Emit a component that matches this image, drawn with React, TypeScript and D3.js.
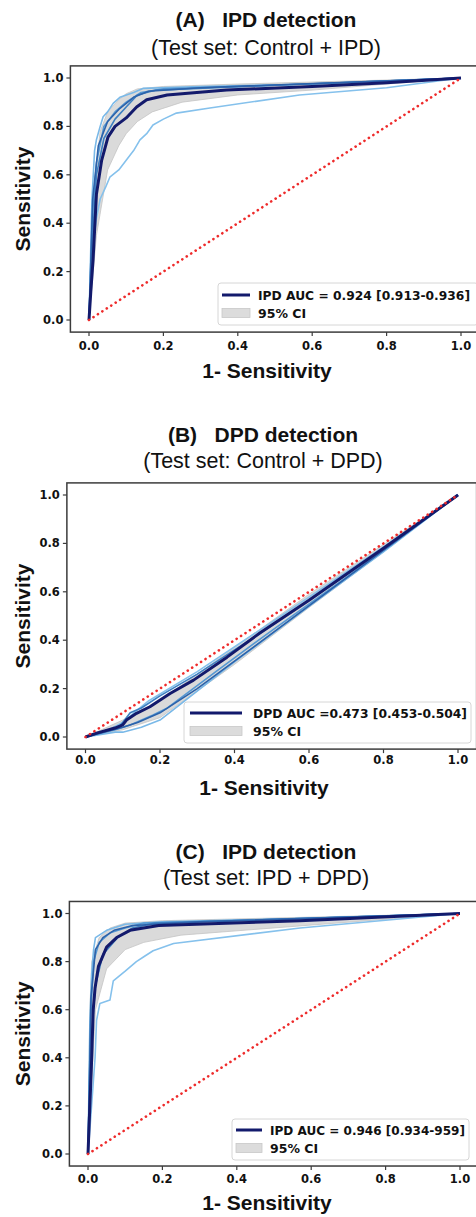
import * as d3 from "d3";

type Pt = [number, number];

const TICKS = [0, 0.2, 0.4, 0.6, 0.8, 1.0];
const FOLD_COLORS = ["#85c1ec", "#7ab9e8", "#5598d3", "#3d7fc1", "#2c62aa"];
const NAVY = "#131a6c";

// panel A: Control + IPD
const MAIN_A: Pt[] = [[0, 0], [0.005, 0.12], [0.011, 0.25], [0.02, 0.52], [0.034, 0.66], [0.051, 0.756], [0.07, 0.8], [0.1, 0.835], [0.128, 0.88], [0.155, 0.91], [0.21, 0.93], [0.37, 0.95], [0.6, 0.965], [0.8, 0.98], [1, 1]];
const FOLDS_A: Pt[][] = [
  [[0, 0], [0.01, 0.3], [0.02, 0.42], [0.03, 0.5], [0.045, 0.55], [0.056, 0.59], [0.08, 0.62], [0.1, 0.66], [0.12, 0.7], [0.137, 0.744], [0.155, 0.77], [0.172, 0.806], [0.2, 0.83], [0.235, 0.855], [0.325, 0.876], [0.566, 0.93], [0.8, 0.96], [1, 1]],
  [[0, 0], [0.008, 0.5], [0.015, 0.7], [0.02, 0.745], [0.03, 0.8], [0.038, 0.84], [0.05, 0.86], [0.065, 0.895], [0.083, 0.92], [0.12, 0.94], [0.145, 0.957], [0.3, 0.965], [0.6, 0.975], [1, 1]],
  [[0, 0], [0.01, 0.45], [0.02, 0.65], [0.04, 0.8], [0.055, 0.83], [0.07, 0.86], [0.1, 0.9], [0.14, 0.94], [0.2, 0.955], [0.5, 0.97], [1, 1]],
  [[0, 0], [0.012, 0.4], [0.02, 0.6], [0.04, 0.75], [0.07, 0.83], [0.1, 0.88], [0.13, 0.93], [0.18, 0.95], [0.5, 0.97], [1, 1]],
  [[0, 0], [0.01, 0.5], [0.025, 0.72], [0.05, 0.82], [0.08, 0.87], [0.12, 0.92], [0.16, 0.945], [0.3, 0.96], [1, 1]],
];
const CI_LOW_A: Pt[] = [[0, 0], [0.02, 0.35], [0.05, 0.62], [0.08, 0.72], [0.1, 0.77], [0.13, 0.82], [0.17, 0.86], [0.25, 0.9], [0.4, 0.93], [0.6, 0.95], [1, 1]];
const CI_HIGH_A: Pt[] = [[0, 0], [0.01, 0.5], [0.03, 0.78], [0.05, 0.86], [0.08, 0.91], [0.1, 0.935], [0.13, 0.955], [0.2, 0.965], [0.4, 0.975], [1, 1]];

// panel B: Control + DPD
const MAIN_B: Pt[] = [[0, 0], [0.03, 0.016], [0.079, 0.037], [0.1, 0.05], [0.11, 0.07], [0.137, 0.098], [0.173, 0.125], [0.227, 0.18], [0.29, 0.235], [0.38, 0.33], [0.468, 0.43], [0.6, 0.565], [0.8, 0.78], [1, 1]];
const FOLDS_B: Pt[][] = [
  [[0, 0], [0.05, 0.02], [0.1, 0.06], [0.13, 0.1], [0.17, 0.15], [0.3, 0.27], [0.5, 0.475], [0.8, 0.785], [1, 1]],
  [[0, 0], [0.08, 0.02], [0.1, 0.02], [0.15, 0.04], [0.2, 0.07], [0.25, 0.13], [0.4, 0.31], [0.6, 0.54], [0.8, 0.765], [1, 1]],
  [[0, 0], [0.08, 0.03], [0.12, 0.05], [0.18, 0.09], [0.22, 0.12], [0.35, 0.27], [0.5, 0.44], [0.7, 0.66], [1, 1]],
  [[0, 0], [0.09, 0.04], [0.12, 0.1], [0.15, 0.12], [0.2, 0.17], [0.3, 0.26], [0.5, 0.46], [0.7, 0.67], [1, 1]],
  [[0, 0], [0.1, 0.04], [0.14, 0.06], [0.2, 0.1], [0.3, 0.2], [0.45, 0.37], [0.65, 0.6], [1, 1]],
];
const CI_LOW_B: Pt[] = [[0, 0], [0.1, 0.03], [0.2, 0.08], [0.3, 0.19], [0.4, 0.3], [0.6, 0.535], [0.8, 0.765], [1, 1]];
const CI_HIGH_B: Pt[] = [[0, 0], [0.1, 0.07], [0.2, 0.15], [0.3, 0.26], [0.4, 0.37], [0.6, 0.59], [0.8, 0.795], [1, 1]];

// panel C: IPD + DPD
const MAIN_C: Pt[] = [[0, 0], [0.005, 0.2], [0.01, 0.4], [0.014, 0.6], [0.019, 0.69], [0.028, 0.78], [0.05, 0.86], [0.077, 0.9], [0.113, 0.93], [0.19, 0.95], [0.57, 0.97], [1, 1]];
const FOLDS_C: Pt[][] = [
  [[0, 0], [0.005, 0.1], [0.019, 0.4], [0.023, 0.556], [0.032, 0.626], [0.059, 0.64], [0.068, 0.72], [0.1, 0.76], [0.13, 0.8], [0.15, 0.82], [0.175, 0.845], [0.23, 0.875], [0.57, 0.94], [1, 1]],
  [[0, 0], [0.005, 0.55], [0.01, 0.75], [0.015, 0.85], [0.02, 0.9], [0.05, 0.93], [0.1, 0.955], [0.2, 0.965], [0.6, 0.98], [1, 1]],
  [[0, 0], [0.008, 0.6], [0.015, 0.8], [0.03, 0.88], [0.06, 0.92], [0.1, 0.94], [0.15, 0.96], [1, 1]],
  [[0, 0], [0.01, 0.5], [0.02, 0.7], [0.04, 0.83], [0.08, 0.9], [0.12, 0.94], [0.18, 0.96], [1, 1]],
  [[0, 0], [0.008, 0.65], [0.02, 0.85], [0.04, 0.9], [0.07, 0.93], [0.12, 0.95], [0.3, 0.965], [1, 1]],
];
const CI_LOW_C: Pt[] = [[0, 0], [0.02, 0.6], [0.05, 0.77], [0.1, 0.85], [0.15, 0.88], [0.25, 0.91], [0.5, 0.94], [1, 1]];
const CI_HIGH_C: Pt[] = [[0, 0], [0.005, 0.6], [0.01, 0.8], [0.03, 0.9], [0.06, 0.94], [0.1, 0.96], [0.2, 0.97], [1, 1]];

const TITLES = ["(A)   IPD detection", "(B)   DPD detection", "(C)   IPD detection"];
const SUBTITLES = ["(Test set: Control + IPD)", "(Test set: Control + DPD)", "(Test set: IPD + DPD)"];
const LEGEND_LABELS = ["IPD AUC = 0.924 [0.913-0.936]", "DPD AUC =0.473 [0.453-0.504]", "IPD AUC = 0.946 [0.934-959]"];

const PANELS = [
  { main: MAIN_A, folds: FOLDS_A, lo: CI_LOW_A, hi: CI_HIGH_A, x0: 89, x1: 461, y0: 320, y1: 78, cx: 266, titleY: 27, subY: 55, tickY: 350, xlabY: 378,
    leg: { x: 218, y: 283, w: 260, h: 42, lx0: 222, lx1: 250, tx: 258, tw: 212, r1: 295, r2: 313 } },
  { main: MAIN_B, folds: FOLDS_B, lo: CI_LOW_B, hi: CI_HIGH_B, x0: 85.5, x1: 458, y0: 737, y1: 495, cx: 263, titleY: 442, subY: 468, tickY: 764, xlabY: 795,
    leg: { x: 184, y: 702, w: 287, h: 41, lx0: 190, lx1: 242, tx: 253, tw: 214, r1: 713, r2: 731 } },
  { main: MAIN_C, folds: FOLDS_C, lo: CI_LOW_C, hi: CI_HIGH_C, x0: 88, x1: 460, y0: 1154, y1: 913.5, cx: 266, titleY: 859, subY: 885, tickY: 1183, xlabY: 1210,
    leg: { x: 232, y: 1119, w: 237, h: 41, lx0: 236, lx1: 262, tx: 270, tw: 195, r1: 1130, r2: 1148 } },
];

const SANS = "'Liberation Sans', Arial, sans-serif";
const DJ = "'DejaVu Sans', sans-serif";

function Panel({ p, i }: { p: (typeof PANELS)[number]; i: number }) {
  const x = d3.scaleLinear().domain([0, 1]).range([p.x0, p.x1]);
  const y = d3.scaleLinear().domain([0, 1]).range([p.y0, p.y1]);
  const line = d3.line<Pt>().x((d) => x(d[0])).y((d) => y(d[1]));
  const band = line(p.hi.concat([...p.lo].reverse())) + "Z";
  const padX = (p.x1 - p.x0) * 0.05;
  const padY = (p.y0 - p.y1) * 0.05;
  const fl = p.x0 - padX, fr = p.x1 + padX, ft = p.y1 - padY, fb = p.y0 + padY;
  const clipId = `clip${i}`;
  const L = p.leg;
  return (
    <g>
      <text x={p.cx} y={p.titleY} textAnchor="middle" fontFamily={SANS} fontWeight="bold" fontSize={21} fill="#111" style={{ whiteSpace: "pre" }}>{TITLES[i]}</text>
      <text x={p.cx} y={p.subY} textAnchor="middle" fontFamily={SANS} fontSize={21.5} fill="#111">{SUBTITLES[i]}</text>
      <defs>
        <clipPath id={clipId}><rect x={fl} y={ft} width={fr - fl} height={fb - ft} /></clipPath>
      </defs>
      <g clipPath={`url(#${clipId})`}>
        <path d={band} fill="#d4d4d4" fillOpacity={0.85} stroke="#c4c4c4" strokeWidth={0.8} />
        {p.folds.map((f, k) => (
          <path key={k} d={line(f) || ""} fill="none" stroke={FOLD_COLORS[k]} strokeWidth={1.6} strokeLinejoin="round" />
        ))}
        <path d={line(p.main) || ""} fill="none" stroke={NAVY} strokeWidth={3} strokeLinejoin="round" />
        <line x1={x(0)} y1={y(0)} x2={x(1)} y2={y(1)} stroke="#ee2b2b" strokeWidth={2.6} strokeDasharray="0.1 5.2" strokeLinecap="round" />
      </g>
      <rect x={fl} y={ft} width={fr - fl} height={fb - ft} fill="none" stroke="#3c3c3c" strokeWidth={1.5} />
      {TICKS.map((t) => (
        <g key={`y${t}`}>
          <line x1={fl - 4} x2={fl} y1={y(t)} y2={y(t)} stroke="#3c3c3c" strokeWidth={1.2} />
          <text x={fl - 7} y={y(t) + 4} textAnchor="end" fontFamily={DJ} fontWeight="bold" fontSize={11.5} fill="#111">{d3.format(".1f")(t)}</text>
        </g>
      ))}
      {TICKS.map((t) => (
        <g key={`x${t}`}>
          <line x1={x(t)} x2={x(t)} y1={fb} y2={fb + 4} stroke="#3c3c3c" strokeWidth={1.2} />
          <text x={x(t)} y={p.tickY} textAnchor="middle" fontFamily={DJ} fontWeight="bold" fontSize={11.5} fill="#111">{d3.format(".1f")(t)}</text>
        </g>
      ))}
      <text x={p.cx + 1} y={p.xlabY} textAnchor="middle" fontFamily={SANS} fontWeight="bold" fontSize={21} fill="#111">1- Sensitivity</text>
      <text transform={`translate(30,${(ft + fb) / 2}) rotate(-90)`} textAnchor="middle" fontFamily={SANS} fontWeight="bold" fontSize={21} fill="#111">Sensitivity</text>
      <rect x={L.x} y={L.y} width={L.w} height={L.h} rx={3} fill="#fff" fillOpacity={0.9} stroke="#d6d6d6" strokeWidth={1} />
      <line x1={L.lx0} x2={L.lx1} y1={L.r1} y2={L.r1} stroke={NAVY} strokeWidth={3} />
      <rect x={L.lx0} y={L.r2 - 4.5} width={L.lx1 - L.lx0} height={9} fill="#dcdcdc" stroke="#c8c8c8" strokeWidth={0.8} />
      <text x={L.tx} y={L.r1 + 4.5} fontFamily={DJ} fontWeight="bold" fontSize={12.5} textLength={L.tw} lengthAdjust="spacingAndGlyphs" fill="#111">{LEGEND_LABELS[i]}</text>
      <text x={L.tx} y={L.r2 + 4.5} fontFamily={DJ} fontWeight="bold" fontSize={12.5} fill="#111">95% CI</text>
    </g>
  );
}

export default function App() {
  return (
    <svg width={476} height={1217} style={{ position: "absolute", left: 0, top: 0, background: "#fff" }}>
      <rect width={476} height={1217} fill="#fff" />
      {PANELS.map((p, i) => (
        <Panel key={i} p={p} i={i} />
      ))}
    </svg>
  );
}
